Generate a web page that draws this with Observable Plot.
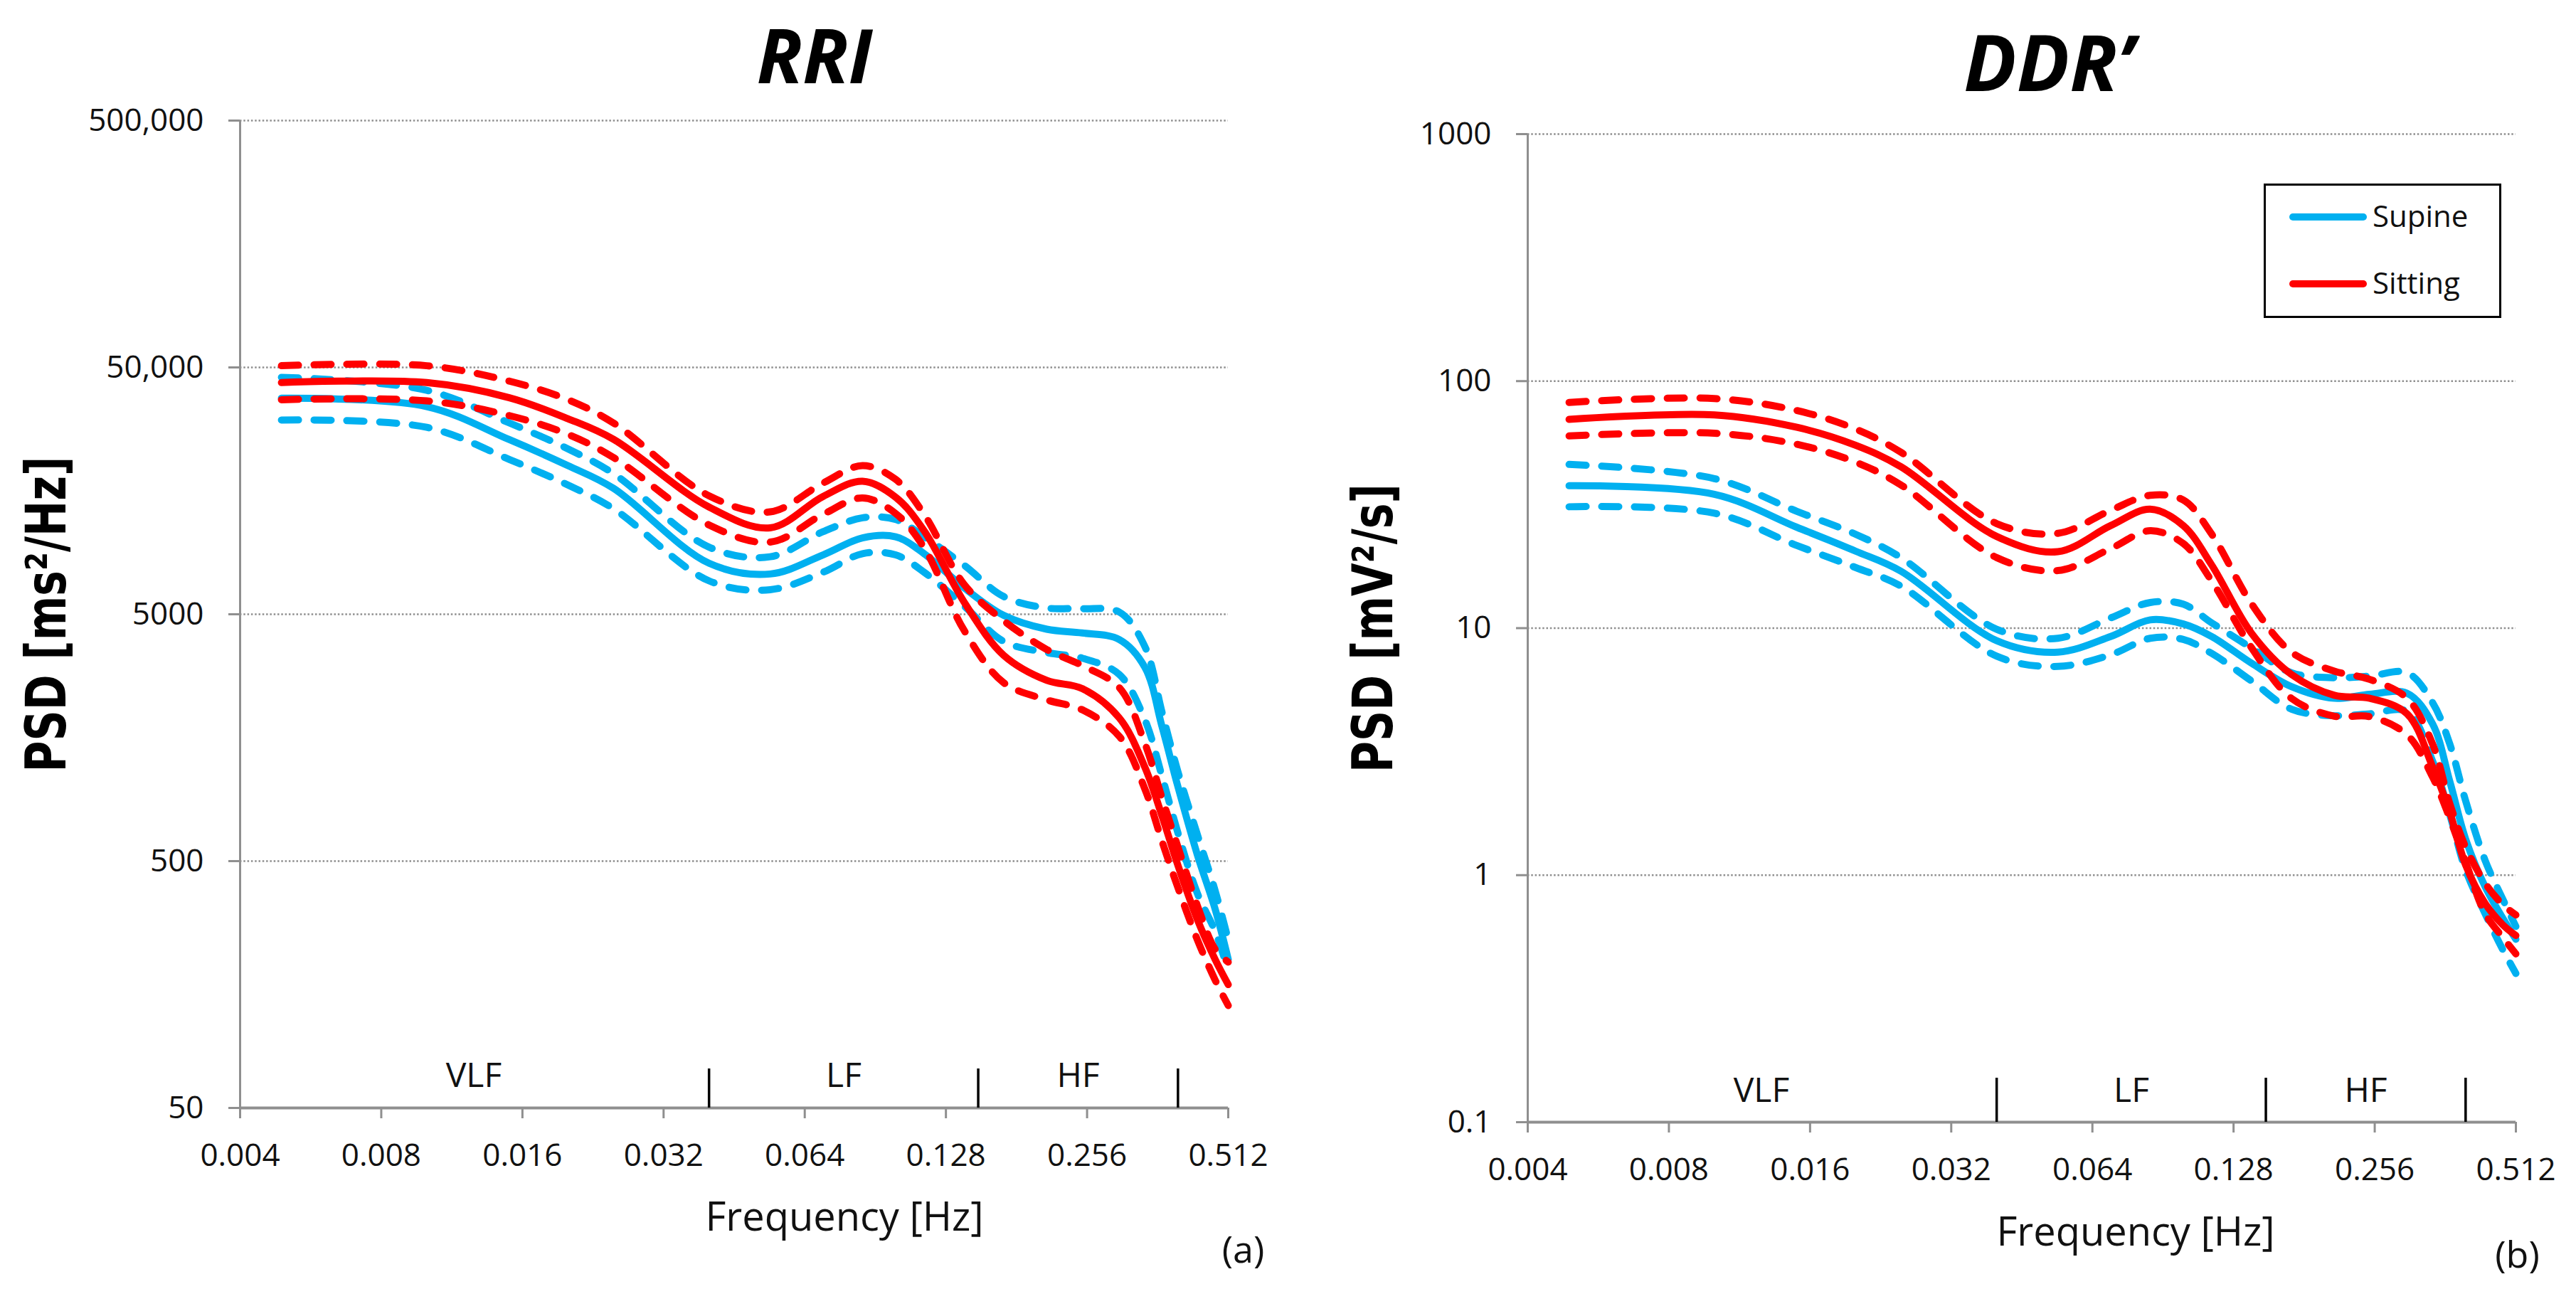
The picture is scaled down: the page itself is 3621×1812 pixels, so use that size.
<!DOCTYPE html>
<html>
<head>
<meta charset="utf-8">
<script src="https://cdn.jsdelivr.net/npm/d3@7"></script>
<script src="https://cdn.jsdelivr.net/npm/@observablehq/plot@0.6"></script>
<style>
  body { margin: 0; background: #fff; }
  #wrap { position: relative; width: 3621px; height: 1812px; overflow: hidden; background: #fff; }
  #wrap > svg { position: absolute; top: 0; }
</style>
</head>
<body>
<div id="wrap"></div>
<script>
// ---------- data ----------
const freqs = [0.0049, 0.01, 0.015, 0.02, 0.025, 0.04, 0.054, 0.07, 0.085, 0.1, 0.115, 0.14, 0.17, 0.21, 0.25, 0.3, 0.34, 0.37, 0.4, 0.44, 0.48, 0.512];

// RRI PSD [ms²/Hz]
const rriSupineMean  = [37500, 34700, 25500, 20000, 16200, 8050, 7280, 8700, 10200, 10300, 8800, 6400, 4950, 4350, 4200, 3950, 3050, 1750, 1000, 530, 320, 200];
const rriSupineUpper = [45600, 40400, 29800, 23400, 18600, 9350, 8550, 10800, 12300, 12100, 10300, 7900, 5900, 5300, 5270, 5100, 3700, 2000, 1150, 640, 380, 240];
const rriSupineLower = [30600, 28600, 21200, 16700, 13400, 6830, 6290, 7400, 8800, 8700, 7400, 5400, 3880, 3500, 3320, 2850, 1870, 1100, 650, 370, 260, 180];
const rriSittingMean  = [43400, 43400, 37700, 31000, 25600, 13600, 11200, 15000, 17300, 14900, 10900, 5600, 3410, 2700, 2500, 1900, 1200, 760, 480, 290, 200, 158];
const rriSittingUpper = [50800, 50800, 44000, 37000, 29800, 15100, 13000, 17000, 20000, 17600, 12700, 6600, 4710, 3600, 3100, 2520, 1500, 900, 570, 330, 220, 195];
const rriSittingLower = [37000, 36600, 31900, 26800, 21600, 11500, 9800, 12700, 14800, 12800, 9300, 4300, 2640, 2250, 2050, 1600, 980, 600, 390, 240, 165, 130];

// DDR' PSD [mV²/s]
const ddrSupineMean  = [37.7, 34.8, 25.6, 20.5, 17, 8.9, 8.0, 9.25, 10.8, 10.4, 9.25, 7.2, 5.8, 5.2, 5.4, 5.45, 4.1, 2.4, 1.4, 0.9, 0.67, 0.55];
const ddrSupineUpper = [46, 40.3, 29.7, 24, 19.3, 9.9, 9.1, 11, 12.7, 12.5, 10.5, 8.3, 6.6, 6.3, 6.4, 6.6, 5.0, 3.4, 2.0, 1.15, 0.8, 0.62];
const ddrSupineLower = [31, 29.2, 21.6, 17.6, 14.8, 7.7, 7.0, 7.8, 9.1, 9.0, 7.9, 6.1, 4.7, 4.42, 4.5, 4.6, 2.9, 1.76, 1.05, 0.7, 0.5, 0.40];
const ddrSittingMean  = [70, 73, 65, 55, 45, 23.5, 20.4, 26, 30.3, 26, 18, 9.5, 6.5, 5.35, 5.2, 4.5, 2.75, 1.8, 1.1, 0.77, 0.63, 0.57];
const ddrSittingUpper = [82, 85, 76, 64, 51.5, 26.5, 24.2, 30, 34.5, 33, 24, 12.5, 8, 6.7, 6.2, 5.2, 3.4, 1.95, 1.3, 0.93, 0.76, 0.69];
const ddrSittingLower = [60, 61.5, 55.5, 47, 38, 19.3, 17.1, 21, 24.8, 22, 15.5, 8.3, 5.2, 4.4, 4.38, 3.7, 2.5, 1.7, 1.13, 0.7, 0.56, 0.48];

// axes
const xTicks = [0.004, 0.008, 0.016, 0.032, 0.064, 0.128, 0.256, 0.512];
const xTickLabels = ["0.004", "0.008", "0.016", "0.032", "0.064", "0.128", "0.256", "0.512"];
const rriYTicks = [50, 500, 5000, 50000, 500000];
const rriYTickLabels = ["50", "500", "5000", "50,000", "500,000"];
const ddrYTicks = [0.1, 1, 10, 100, 1000];
const ddrYTickLabels = ["0.1", "1", "10", "100", "1000"];

// frequency bands
const bandEdges = [0.04, 0.15, 0.4];
const bandCenters = [0.0126, 0.0775, 0.245];
const bandLabels = ["VLF", "LF", "HF"];

// series
const seriesNames = ["Supine", "Sitting"];
const seriesColors = ["#00B0F0", "#FF0000"];

// ---------- drawing ----------
const wrap = document.getElementById("wrap");

function rows(vals) { return freqs.map((f, i) => ({f, v: vals[i]})); }

function lineMarks(sets) {
  const marks = [];
  sets.forEach((s, k) => {
    const color = seriesColors[k];
    const [lower, upper, mean] = s;
    for (const vals of [lower, upper]) {
      marks.push(Plot.line(rows(vals), {x: "f", y: "v", stroke: color, strokeWidth: 10,
        strokeDasharray: "24,22", strokeLinecap: "round", curve: "catmull-rom"}));
    }
    marks.push(Plot.line(rows(mean), {x: "f", y: "v", stroke: color, strokeWidth: 10,
      strokeLinecap: "round", curve: "catmull-rom"}));
  });
  return marks;
}

function panel(cfg) {
  const yMap = new Map(cfg.yTicks.map((t, i) => [t, cfg.yLabels[i]]));
  const xMap = new Map(xTicks.map((t, i) => [t, xTickLabels[i]]));
  const frameH = cfg.height - cfg.marginTop - cfg.marginBottom;
  const svg = Plot.plot({
    width: cfg.width, height: cfg.height,
    marginLeft: cfg.marginLeft, marginRight: cfg.marginRight,
    marginTop: cfg.marginTop, marginBottom: cfg.marginBottom,
    x: {type: "log", base: 2, domain: [xTicks[0], xTicks[xTicks.length - 1]]},
    y: {type: "log", domain: [cfg.yTicks[0], cfg.yTicks[cfg.yTicks.length - 1]]},
    style: {fontFamily: "'Open Sans', sans-serif", fontSize: "44px", color: "#111", background: "transparent", overflow: "visible"},
    marks: [
      Plot.gridY(cfg.yTicks, {stroke: "#8f8f8f", strokeOpacity: 1, strokeWidth: 2.5, strokeDasharray: "2.5,2.8"}),
      Plot.ruleY([cfg.yTicks[0]], {stroke: "#8f8f8f", strokeWidth: 4}),
      Plot.ruleX([xTicks[0]], {stroke: "#8f8f8f", strokeWidth: 3}),
      Plot.axisY(cfg.yTicks, {tickSize: 16, tickPadding: 35, strokeWidth: 3, stroke: "#8f8f8f", fill: "#111",
        tickFormat: d => yMap.get(d), label: null, fontSize: 44}),
      Plot.axisX(xTicks, {tickSize: 15, tickPadding: 35, strokeWidth: 3, stroke: "#8f8f8f", fill: "#111",
        tickFormat: d => xMap.get(d), label: null, fontSize: 44}),
      Plot.ruleX(bandEdges, {stroke: "#000", strokeWidth: 3.5, insetTop: frameH - cfg.dividerLen}),
      Plot.text(bandCenters, {x: d => d, text: (d, i) => bandLabels[i], frameAnchor: "bottom",
        lineAnchor: "middle", dy: cfg.bandDy, fontSize: 48, fill: "#111"}),
      ...lineMarks(cfg.sets),
      Plot.text([cfg.title], {frameAnchor: "top", dx: cfg.titleDx, dy: cfg.titleDy, lineAnchor: "middle",
        fontSize: cfg.titleSize, fontWeight: "bold", fontStyle: "italic", fill: "#000"}),
      Plot.text([cfg.yTitle], {frameAnchor: "left", rotate: -90, dx: cfg.yTitleDx, lineAnchor: "middle",
        textAnchor: "middle", fontSize: 78, fontWeight: "bold", fontFamily: "'DejaVu Sans', sans-serif", fill: "#000"}),
      Plot.text(["Frequency [Hz]"], {frameAnchor: "bottom", dx: cfg.xTitleDx, dy: cfg.xTitleDy, lineAnchor: "top",
        fontSize: 56, fill: "#111"}),
      Plot.text([cfg.letter], {frameAnchor: "bottom-right", textAnchor: "middle", dx: cfg.letterDx, dy: cfg.letterDy,
        lineAnchor: "middle", fontSize: 52, fill: "#111"})
    ]
  });
  d3.select(svg).selectAll("text").filter(function() { return this.textContent === cfg.yTitle; })
    .attr("textLength", cfg.yTitleLen).attr("lengthAdjust", "spacingAndGlyphs");
  svg.style.left = cfg.left + "px";
  wrap.appendChild(svg);
}

panel({
  left: 0, width: 1810, height: 1812,
  marginLeft: 337, marginRight: 84, marginTop: 169, marginBottom: 255,
  yTicks: rriYTicks, yLabels: rriYTickLabels,
  sets: [[rriSupineLower, rriSupineUpper, rriSupineMean], [rriSittingLower, rriSittingUpper, rriSittingMean]],
  title: "RRI", titleSize: 106, titleDx: 113, titleDy: -86,
  yTitle: "PSD [ms²/Hz]", yTitleDx: -270, yTitleLen: 444,
  xTitleDx: 155, xTitleDy: 133,
  letter: "(a)", letterDx: 21, letterDy: 201,
  bandDy: -45, dividerLen: 55
});

panel({
  left: 1810, width: 1811, height: 1812,
  marginLeft: 337, marginRight: 85, marginTop: 188, marginBottom: 235,
  yTicks: ddrYTicks, yLabels: ddrYTickLabels,
  sets: [[ddrSupineLower, ddrSupineUpper, ddrSupineMean], [ddrSittingLower, ddrSittingUpper, ddrSittingMean]],
  title: "DDR\u2019", titleSize: 110, titleDx: 38, titleDy: -96,
  yTitle: "PSD [mV²/s]", yTitleDx: -215, yTitleLen: 406,
  xTitleDx: 160, xTitleDy: 134,
  letter: "(b)", letterDx: 2, letterDy: 188,
  bandDy: -44, dividerLen: 62
});

// legend (inside the DDR' panel)
const lg = d3.select(wrap).append("svg")
  .attr("width", 3621).attr("height", 1812)
  .style("position", "absolute").style("left", "0px").style("top", "0px");
lg.append("rect").attr("x", 3183.5).attr("y", 259.5).attr("width", 331).attr("height", 186)
  .attr("fill", "#fff").attr("stroke", "#000").attr("stroke-width", 3);
seriesNames.forEach((name, i) => {
  const y = 305 + i * 94;
  lg.append("line").attr("x1", 3223).attr("x2", 3322).attr("y1", y).attr("y2", y)
    .attr("stroke", seriesColors[i]).attr("stroke-width", 10).attr("stroke-linecap", "round");
  lg.append("text").attr("x", 3335).attr("y", y + 14).text(name)
    .attr("font-family", "'Open Sans', sans-serif").attr("font-size", 42).attr("fill", "#111");
});
</script>
</body>
</html>
